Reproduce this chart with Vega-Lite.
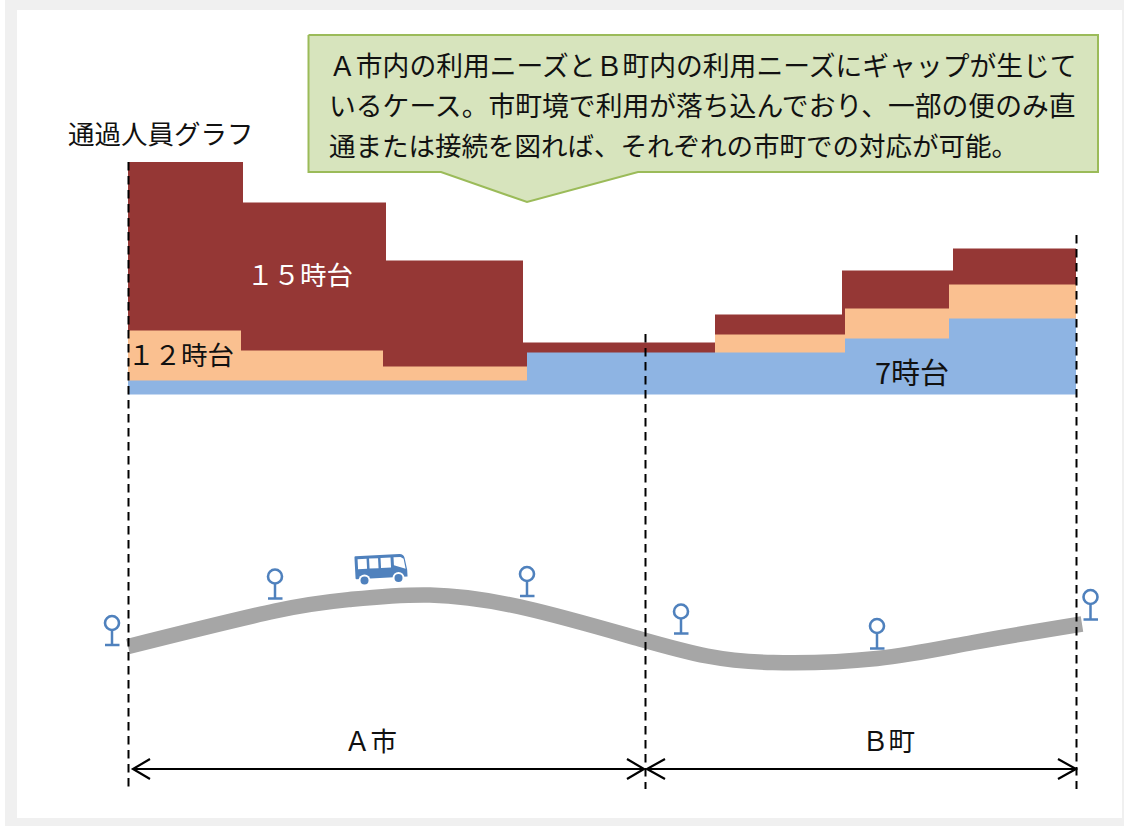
{
  "$schema": "https://vega.github.io/schema/vega-lite/v6.json",
  "width": 1124,
  "height": 826,
  "autosize": {"type": "fit", "contains": "padding"},
  "padding": 0,
  "background": "#ffffff",
  "config": {"view": {"stroke": null}},
  "datasets": {
    "frame": [{"x0": 5, "x1": 1124, "y0": 0, "y1": 826}],
    "panel": [{"x0": 17, "x1": 1122, "y0": 10, "y1": 818}],
    "ridership15": [
      {"x0": 128, "x1": 243, "y0": 162, "y1": 394},
      {"x0": 243, "x1": 386, "y0": 202.5, "y1": 394},
      {"x0": 386, "x1": 523, "y0": 260.5, "y1": 394},
      {"x0": 523, "x1": 715, "y0": 342.5, "y1": 394},
      {"x0": 715, "x1": 842, "y0": 314.5, "y1": 394},
      {"x0": 842, "x1": 953, "y0": 270.5, "y1": 394},
      {"x0": 953, "x1": 1076, "y0": 248.5, "y1": 394}
    ],
    "ridership12": [
      {"x0": 128, "x1": 241, "y0": 330.5, "y1": 394},
      {"x0": 241, "x1": 383, "y0": 350.5, "y1": 394},
      {"x0": 383, "x1": 527, "y0": 366.5, "y1": 394},
      {"x0": 715, "x1": 845, "y0": 334.5, "y1": 394},
      {"x0": 845, "x1": 949, "y0": 308.5, "y1": 394},
      {"x0": 949, "x1": 1076, "y0": 284.5, "y1": 394}
    ],
    "ridership7": [
      {"x0": 128, "x1": 527, "y0": 380.5, "y1": 394.5},
      {"x0": 527, "x1": 845, "y0": 352.5, "y1": 394.5},
      {"x0": 845, "x1": 949, "y0": 338.5, "y1": 394.5},
      {"x0": 949, "x1": 1076, "y0": 318.5, "y1": 394.5}
    ],
    "calloutFill": [
      {"x": 308.5, "top": 35, "bottom": 172},
      {"x": 441, "top": 35, "bottom": 172},
      {"x": 527, "top": 35, "bottom": 202},
      {"x": 638, "top": 35, "bottom": 172},
      {"x": 1098, "top": 35, "bottom": 172}
    ],
    "calloutEdge": [
      {"i": 0, "x": 308.5, "y": 35},
      {"i": 1, "x": 1098, "y": 35},
      {"i": 2, "x": 1098, "y": 172},
      {"i": 3, "x": 638, "y": 172},
      {"i": 4, "x": 527, "y": 202},
      {"i": 5, "x": 441, "y": 172},
      {"i": 6, "x": 308.5, "y": 172},
      {"i": 7, "x": 308.5, "y": 35}
    ],
    "road": [
      {"x": 128, "y": 646.5},
      {"x": 275, "y": 611},
      {"x": 350, "y": 599.5},
      {"x": 430, "y": 595},
      {"x": 527, "y": 608.5},
      {"x": 640, "y": 639},
      {"x": 707, "y": 656},
      {"x": 773, "y": 662.5},
      {"x": 877, "y": 658.5},
      {"x": 973, "y": 642.5},
      {"x": 1082, "y": 624}
    ],
    "boundaries": [
      {"x": 128.5, "y0": 162, "y1": 787},
      {"x": 645.5, "y0": 334, "y1": 789},
      {"x": 1076.5, "y0": 235, "y1": 789}
    ],
    "stops": [
      {"cx": 112, "cy": 623, "stem": 630, "base": 645, "left": 105, "right": 119.5},
      {"cx": 275, "cy": 576.5, "stem": 584, "base": 598.5, "left": 268, "right": 282.5},
      {"cx": 527, "cy": 574, "stem": 581.5, "base": 596, "left": 520, "right": 534.5},
      {"cx": 681, "cy": 611.5, "stem": 619, "base": 633.5, "left": 674, "right": 688.5},
      {"cx": 877, "cy": 626, "stem": 633.5, "base": 648.5, "left": 870, "right": 884.5},
      {"cx": 1090.5, "cy": 597, "stem": 604.5, "base": 619.5, "left": 1083.5, "right": 1098}
    ],
    "bus": [{"x": 381, "y": 567}],
    "wheels": [{"x": 364.5, "y": 580.5}, {"x": 398.5, "y": 578}],
    "spans": [
      {"span": "A", "part": "shaft", "i": 0, "x": 133, "y": 769},
      {"span": "A", "part": "shaft", "i": 1, "x": 644, "y": 769},
      {"span": "A", "part": "headL", "i": 0, "x": 150, "y": 759},
      {"span": "A", "part": "headL", "i": 1, "x": 133, "y": 769},
      {"span": "A", "part": "headL", "i": 2, "x": 150, "y": 779},
      {"span": "A", "part": "headR", "i": 0, "x": 627, "y": 759},
      {"span": "A", "part": "headR", "i": 1, "x": 644, "y": 769},
      {"span": "A", "part": "headR", "i": 2, "x": 627, "y": 779},
      {"span": "B", "part": "shaft", "i": 0, "x": 647, "y": 769},
      {"span": "B", "part": "shaft", "i": 1, "x": 1076, "y": 769},
      {"span": "B", "part": "headL", "i": 0, "x": 665, "y": 759},
      {"span": "B", "part": "headL", "i": 1, "x": 647, "y": 769},
      {"span": "B", "part": "headL", "i": 2, "x": 665, "y": 779},
      {"span": "B", "part": "headR", "i": 0, "x": 1058, "y": 759},
      {"span": "B", "part": "headR", "i": 1, "x": 1076, "y": 769},
      {"span": "B", "part": "headR", "i": 2, "x": 1058, "y": 779}
    ],
    "calloutLines": [
      {"text": "Ａ市内の利用ニーズとＢ町内の利用ニーズにギャップが生じて", "x": 329, "y": 67.5},
      {"text": "いるケース。市町境で利用が落ち込んでおり、一部の便のみ直", "x": 329, "y": 107.5}
    ],
    "labels": [
      {"text": "通または接続を図れば、それぞれの市町での対応が可能。", "x": 329, "y": 147.5},
      {"text": "通過人員グラフ", "x": 68, "y": 136},
      {"text": "１２時台", "x": 128, "y": 357},
      {"text": "Ａ市", "x": 344, "y": 743},
      {"text": "Ｂ町", "x": 862, "y": 743}
    ],
    "labelsOnDark": [{"text": "１５時台", "x": 247, "y": 277}],
    "labelsOnBlue": [{"text": "7時台", "x": 875, "y": 375}]
  },
  "layer": [
    {
      "data": {"name": "frame"},
      "mark": {"type": "rect", "fill": "#f0f0f0"},
      "encoding": {
        "x": {"field": "x0", "type": "quantitative", "axis": null, "scale": {"domain": [0, 1124]}},
        "x2": {"field": "x1"},
        "y": {"field": "y0", "type": "quantitative", "axis": null, "scale": {"domain": [826, 0]}},
        "y2": {"field": "y1"}
      }
    },
    {
      "data": {"name": "panel"},
      "mark": {"type": "rect", "fill": "#ffffff"},
      "encoding": {
        "x": {"field": "x0", "type": "quantitative", "axis": null, "scale": {"domain": [0, 1124]}},
        "x2": {"field": "x1"},
        "y": {"field": "y0", "type": "quantitative", "axis": null, "scale": {"domain": [826, 0]}},
        "y2": {"field": "y1"}
      }
    },
    {
      "data": {"name": "ridership15"},
      "mark": {"type": "rect", "fill": "#953735"},
      "encoding": {
        "x": {"field": "x0", "type": "quantitative", "axis": null, "scale": {"domain": [0, 1124]}},
        "x2": {"field": "x1"},
        "y": {"field": "y0", "type": "quantitative", "axis": null, "scale": {"domain": [826, 0]}},
        "y2": {"field": "y1"}
      }
    },
    {
      "data": {"name": "ridership12"},
      "mark": {"type": "rect", "fill": "#fac090"},
      "encoding": {
        "x": {"field": "x0", "type": "quantitative", "axis": null, "scale": {"domain": [0, 1124]}},
        "x2": {"field": "x1"},
        "y": {"field": "y0", "type": "quantitative", "axis": null, "scale": {"domain": [826, 0]}},
        "y2": {"field": "y1"}
      }
    },
    {
      "data": {"name": "ridership7"},
      "mark": {"type": "rect", "fill": "#8eb4e3"},
      "encoding": {
        "x": {"field": "x0", "type": "quantitative", "axis": null, "scale": {"domain": [0, 1124]}},
        "x2": {"field": "x1"},
        "y": {"field": "y0", "type": "quantitative", "axis": null, "scale": {"domain": [826, 0]}},
        "y2": {"field": "y1"}
      }
    },
    {
      "data": {"name": "calloutFill"},
      "mark": {"type": "area", "fill": "#d7e4bd", "interpolate": "linear"},
      "encoding": {
        "x": {"field": "x", "type": "quantitative", "axis": null, "scale": {"domain": [0, 1124]}},
        "y": {"field": "top", "type": "quantitative", "axis": null, "scale": {"domain": [826, 0]}},
        "y2": {"field": "bottom"}
      }
    },
    {
      "data": {"name": "calloutEdge"},
      "mark": {"type": "line", "stroke": "#9bbb59", "strokeWidth": 2, "strokeJoin": "miter"},
      "encoding": {
        "x": {"field": "x", "type": "quantitative", "axis": null, "scale": {"domain": [0, 1124]}},
        "y": {"field": "y", "type": "quantitative", "axis": null, "scale": {"domain": [826, 0]}},
        "order": {"field": "i"}
      }
    },
    {
      "data": {"name": "road"},
      "mark": {"type": "line", "stroke": "#a6a6a6", "strokeWidth": 15.5, "interpolate": "natural", "strokeCap": "butt"},
      "encoding": {
        "x": {"field": "x", "type": "quantitative", "axis": null, "scale": {"domain": [0, 1124]}},
        "y": {"field": "y", "type": "quantitative", "axis": null, "scale": {"domain": [826, 0]}}
      }
    },
    {
      "data": {"name": "boundaries"},
      "mark": {"type": "rule", "stroke": "#000000", "strokeWidth": 2, "strokeDash": [8.5, 5.5]},
      "encoding": {
        "x": {"field": "x", "type": "quantitative", "axis": null, "scale": {"domain": [0, 1124]}},
        "y": {"field": "y0", "type": "quantitative", "axis": null, "scale": {"domain": [826, 0]}},
        "y2": {"field": "y1"}
      }
    },
    {
      "data": {"name": "stops"},
      "mark": {"type": "point", "shape": "circle", "size": 196, "filled": false, "stroke": "#4f81bd", "strokeWidth": 2.6, "opacity": 1},
      "encoding": {
        "x": {"field": "cx", "type": "quantitative", "axis": null, "scale": {"domain": [0, 1124]}},
        "y": {"field": "cy", "type": "quantitative", "axis": null, "scale": {"domain": [826, 0]}}
      }
    },
    {
      "data": {"name": "stops"},
      "mark": {"type": "rule", "stroke": "#4f81bd", "strokeWidth": 2.5},
      "encoding": {
        "x": {"field": "cx", "type": "quantitative", "axis": null, "scale": {"domain": [0, 1124]}},
        "y": {"field": "stem", "type": "quantitative", "axis": null, "scale": {"domain": [826, 0]}},
        "y2": {"field": "base"}
      }
    },
    {
      "data": {"name": "stops"},
      "mark": {"type": "rule", "stroke": "#4f81bd", "strokeWidth": 2.5},
      "encoding": {
        "x": {"field": "left", "type": "quantitative", "axis": null, "scale": {"domain": [0, 1124]}},
        "x2": {"field": "right"},
        "y": {"field": "base", "type": "quantitative", "axis": null, "scale": {"domain": [826, 0]}}
      }
    },
    {
      "data": {"name": "bus"},
      "mark": {
        "type": "point",
        "filled": true,
        "fill": "#4f81bd",
        "opacity": 1,
        "size": 4,
        "angle": 357,
        "shape": "M-25,-12 L19,-12 Q23,-12 24,-8 L26,4 L26,11 L-25,11 Q-26,11 -26,10 L-26,-11 Q-26,-12 -25,-12 Z M-23,-9 L-23,1 L-14,1 L-14,-9 Z M-11.5,-9 L-11.5,1 L-2.5,1 L-2.5,-9 Z M0,-9 L0,1 L10,1 L10,-9 Z M13,-9 L13,-1 L24.5,3 L23,-7 L20,-9 Z"
      },
      "encoding": {
        "x": {"field": "x", "type": "quantitative", "axis": null, "scale": {"domain": [0, 1124]}},
        "y": {"field": "y", "type": "quantitative", "axis": null, "scale": {"domain": [826, 0]}}
      }
    },
    {
      "data": {"name": "wheels"},
      "mark": {"type": "point", "shape": "circle", "filled": true, "fill": "#ffffff", "opacity": 1, "size": 144},
      "encoding": {
        "x": {"field": "x", "type": "quantitative", "axis": null, "scale": {"domain": [0, 1124]}},
        "y": {"field": "y", "type": "quantitative", "axis": null, "scale": {"domain": [826, 0]}}
      }
    },
    {
      "data": {"name": "wheels"},
      "mark": {"type": "point", "shape": "circle", "filled": true, "fill": "#4f81bd", "opacity": 1, "size": 64},
      "encoding": {
        "x": {"field": "x", "type": "quantitative", "axis": null, "scale": {"domain": [0, 1124]}},
        "y": {"field": "y", "type": "quantitative", "axis": null, "scale": {"domain": [826, 0]}}
      }
    },
    {
      "data": {"name": "spans"},
      "mark": {"type": "line", "stroke": "#000000", "strokeWidth": 2.2},
      "encoding": {
        "x": {"field": "x", "type": "quantitative", "axis": null, "scale": {"domain": [0, 1124]}},
        "y": {"field": "y", "type": "quantitative", "axis": null, "scale": {"domain": [826, 0]}},
        "detail": [{"field": "span"}, {"field": "part"}],
        "order": {"field": "i"}
      }
    },
    {
      "data": {"name": "calloutLines"},
      "mark": {"type": "text", "font": "Noto Sans CJK JP", "fontSize": 26.8, "align": "left", "baseline": "middle", "fill": "#111111"},
      "encoding": {
        "x": {"field": "x", "type": "quantitative", "axis": null, "scale": {"domain": [0, 1124]}},
        "y": {"field": "y", "type": "quantitative", "axis": null, "scale": {"domain": [826, 0]}},
        "text": {"field": "text"}
      }
    },
    {
      "data": {"name": "labels"},
      "mark": {"type": "text", "font": "Noto Sans CJK JP", "fontSize": 26.5, "align": "left", "baseline": "middle", "fill": "#111111"},
      "encoding": {
        "x": {"field": "x", "type": "quantitative", "axis": null, "scale": {"domain": [0, 1124]}},
        "y": {"field": "y", "type": "quantitative", "axis": null, "scale": {"domain": [826, 0]}},
        "text": {"field": "text"}
      }
    },
    {
      "data": {"name": "labelsOnDark"},
      "mark": {"type": "text", "font": "Noto Sans CJK JP", "fontSize": 26.5, "align": "left", "baseline": "middle", "fill": "#ffffff"},
      "encoding": {
        "x": {"field": "x", "type": "quantitative", "axis": null, "scale": {"domain": [0, 1124]}},
        "y": {"field": "y", "type": "quantitative", "axis": null, "scale": {"domain": [826, 0]}},
        "text": {"field": "text"}
      }
    },
    {
      "data": {"name": "labelsOnBlue"},
      "mark": {"type": "text", "font": "Noto Sans CJK JP", "fontSize": 29, "align": "left", "baseline": "middle", "fill": "#111111"},
      "encoding": {
        "x": {"field": "x", "type": "quantitative", "axis": null, "scale": {"domain": [0, 1124]}},
        "y": {"field": "y", "type": "quantitative", "axis": null, "scale": {"domain": [826, 0]}},
        "text": {"field": "text"}
      }
    }
  ]
}
